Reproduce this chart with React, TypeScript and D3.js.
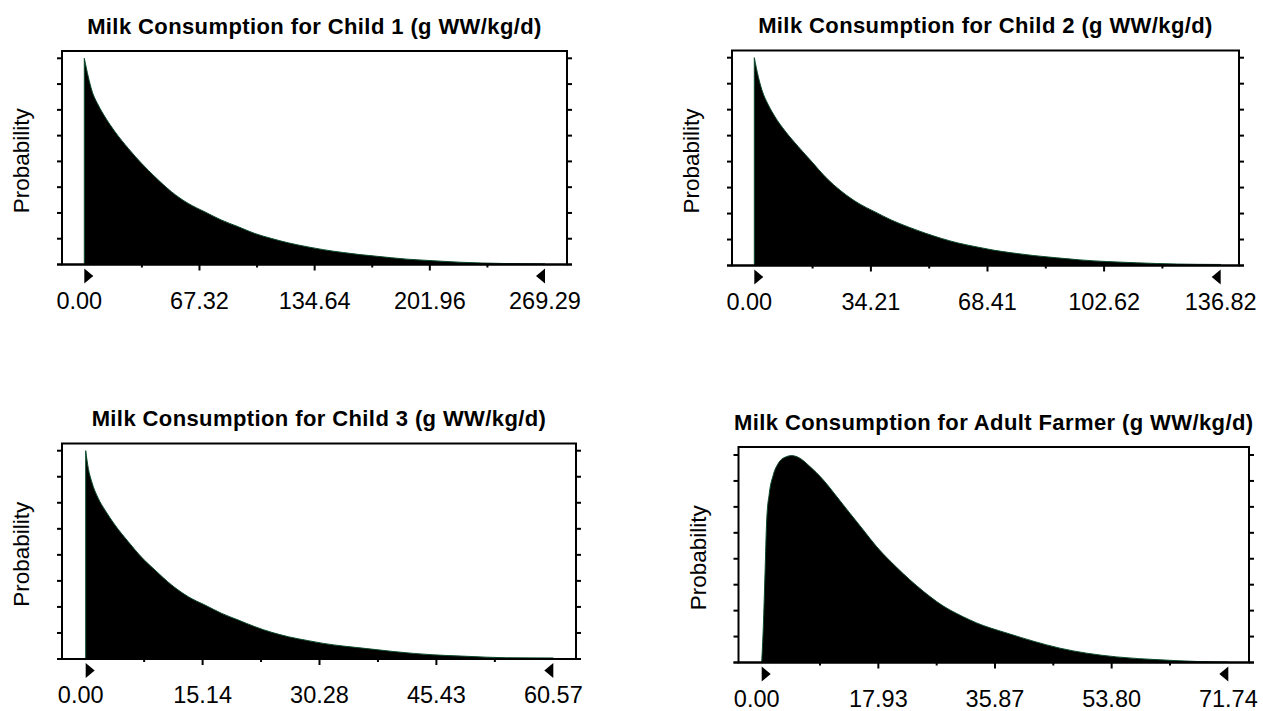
import React from 'react';
import * as d3 from 'd3';

// relative probability (peak = 1), x in g WW/kg/d
const child1X = [0, 2.34, 4.33, 8.18, 12.1, 17.94, 25.72, 33.55, 41.33, 51.09, 60.79, 70.55, 80.31, 90.02, 99.78, 109.54, 119.24, 130.93, 139.7, 151.39, 161.15, 170.91, 188.45, 202.07, 219.6, 244.9, 269.29];
const child1Y = [1.0, 0.91, 0.846, 0.773, 0.716, 0.644, 0.563, 0.49, 0.425, 0.352, 0.296, 0.255, 0.215, 0.183, 0.15, 0.126, 0.105, 0.085, 0.072, 0.058, 0.048, 0.04, 0.026, 0.019, 0.011, 0.005, 0.003];

const child2X = [0, 1.17, 2.17, 4.11, 6.07, 9.0, 12.91, 16.84, 20.74, 25.64, 30.51, 35.41, 40.31, 45.17, 50.07, 54.97, 59.84, 65.71, 70.11, 75.98, 81.84, 88.71, 95.54, 103.37, 112.17, 123.9, 136.82];
const child2Y = [1.0, 0.909, 0.848, 0.773, 0.716, 0.648, 0.572, 0.5, 0.428, 0.356, 0.3, 0.258, 0.218, 0.1855, 0.156, 0.13, 0.108, 0.088, 0.074, 0.06, 0.048, 0.037, 0.027, 0.019, 0.013, 0.007, 0.005];

const child3X = [0, 0.34, 0.78, 1.63, 2.5, 3.8, 5.52, 7.25, 8.98, 11.14, 13.29, 15.45, 17.62, 19.77, 21.93, 24.09, 26.24, 28.83, 30.78, 33.37, 36.4, 39.84, 42.44, 45.03, 49.35, 54.53, 60.57];
const child3Y = [1.0, 0.915, 0.851, 0.771, 0.715, 0.643, 0.563, 0.488, 0.427, 0.355, 0.299, 0.259, 0.219, 0.187, 0.155, 0.128, 0.107, 0.088, 0.075, 0.062, 0.05, 0.036, 0.027, 0.02, 0.013, 0.006, 0.005];

const adultX = [0, 0.25, 0.51, 0.77, 1.17, 1.78, 2.55, 3.58, 4.61, 5.89, 7.42, 9.47, 11.53, 13.57, 15.62, 17.68, 19.72, 21.77, 23.83, 25.87, 27.92, 29.98, 32.02, 34.07, 36.63, 38.17, 41.75, 45.86, 49.96, 54.57, 61.23, 66.87, 71.74];
const adultY = [0, 0.173, 0.43, 0.687, 0.816, 0.904, 0.96, 0.989, 0.997, 0.984, 0.944, 0.88, 0.8, 0.719, 0.639, 0.558, 0.49, 0.428, 0.37, 0.318, 0.272, 0.236, 0.205, 0.178, 0.152, 0.137, 0.103, 0.069, 0.045, 0.027, 0.013, 0.005, 0.002];

const child1Ticks = ['0.00', '67.32', '134.64', '201.96', '269.29'];
const child2Ticks = ['0.00', '34.21', '68.41', '102.62', '136.82'];
const child3Ticks = ['0.00', '15.14', '30.28', '45.43', '60.57'];
const adultTicks = ['0.00', '17.93', '35.87', '53.80', '71.74'];

const titles = [
  'Milk Consumption for Child 1 (g WW/kg/d)',
  'Milk Consumption for Child 2 (g WW/kg/d)',
  'Milk Consumption for Child 3 (g WW/kg/d)',
  'Milk Consumption for Adult Farmer (g WW/kg/d)',
];

const FONT = '"Liberation Sans", Arial, sans-serif';

type Box = { left: number; right: number; top: number; bottom: number; x0: number; x1: number; yTop: number };

const Panel = ({ title, xs, ys, ticks, box }: { title: string; xs: number[]; ys: number[]; ticks: string[]; box: Box }) => {
  const xMax = +ticks[ticks.length - 1];
  const x = d3.scaleLinear().domain([0, xMax]).range([box.x0, box.x1]);
  const y = d3.scaleLinear().domain([0, 1]).range([box.bottom, box.yTop]);
  const pts = xs.map((v, i) => [v, ys[i]] as [number, number]);
  const area = d3.area<[number, number]>()
    .x(d => x(d[0]))
    .y0(y(0))
    .y1(d => y(d[1]))
    .curve(d3.curveMonotoneX);

  const yTicks = d3.range(9).map(i => i / 8);
  const xTicks = d3.range(9).map(i => (i / 8) * xMax);
  const cx = (box.left + box.right) / 2;
  const cy = (box.top + box.bottom) / 2;

  return (
    <g>
      <text x={cx} y={box.top - 17.5} textAnchor="middle" fontFamily={FONT} fontWeight="bold" fontSize={22} letterSpacing={0.4}>{title}</text>
      <text transform={`translate(${box.left - 33},${cy + 3}) rotate(-90)`} textAnchor="middle" fontFamily={FONT} fontSize={22.5}>Probability</text>
      <path d={area(pts) || ''} fill="#000" stroke="#0c4a2c" strokeWidth={1} />
      <rect x={box.left} y={box.top} width={box.right - box.left} height={box.bottom - box.top} fill="none" stroke="#000" strokeWidth={2} />
      <line x1={box.left - 5} x2={box.right + 5} y1={box.bottom} y2={box.bottom} stroke="#000" strokeWidth={2} />
      {yTicks.map((t, i) => (
        <g key={'y' + i}>
          <line x1={box.left - 5} x2={box.left} y1={y(t)} y2={y(t)} stroke="#000" strokeWidth={2} />
          <line x1={box.right} x2={box.right + 5} y1={y(t)} y2={y(t)} stroke="#000" strokeWidth={2} />
        </g>
      ))}
      {xTicks.slice(1, 8).map((t, i) => (
        <line key={'x' + i} x1={x(t)} x2={x(t)} y1={box.bottom} y2={box.bottom + (i % 2 === 1 ? 6 : 3)} stroke="#000" strokeWidth={2} />
      ))}
      <path d={`M${x(0)},${box.bottom + 4}L${x(0) + 9},${box.bottom + 11.5}L${x(0)},${box.bottom + 19}Z`} fill="#000" />
      <path d={`M${x(xMax)},${box.bottom + 4}L${x(xMax) - 9},${box.bottom + 11.5}L${x(xMax)},${box.bottom + 19}Z`} fill="#000" />
      {ticks.map((lab, i) => (
        <text key={'l' + i} x={x((i / 4) * xMax) + (i === 0 ? -5 : 0)} y={box.bottom + 44} textAnchor="middle" fontFamily={FONT} fontSize={23.5}>{lab}</text>
      ))}
    </g>
  );
};

const boxes: Box[] = [
  { left: 62, right: 567, top: 51, bottom: 264.5, x0: 84.3, x1: 545, yTop: 58.3 },
  { left: 732, right: 1239, top: 50.5, bottom: 265.5, x0: 754.3, x1: 1220.7, yTop: 57.7 },
  { left: 62, right: 576, top: 443.5, bottom: 659, x0: 85.7, x1: 553.3, yTop: 450.7 },
  { left: 738.5, right: 1249, top: 447, bottom: 662.5, x0: 761.7, x1: 1228.3, yTop: 455 },
];

export default function App() {
  return (
    <svg width={1263} height={711} style={{ position: 'absolute', left: 0, top: 0, background: '#fff' }}>
      <Panel title={titles[0]} xs={child1X} ys={child1Y} ticks={child1Ticks} box={boxes[0]} />
      <Panel title={titles[1]} xs={child2X} ys={child2Y} ticks={child2Ticks} box={boxes[1]} />
      <Panel title={titles[2]} xs={child3X} ys={child3Y} ticks={child3Ticks} box={boxes[2]} />
      <Panel title={titles[3]} xs={adultX} ys={adultY} ticks={adultTicks} box={boxes[3]} />
    </svg>
  );
}
